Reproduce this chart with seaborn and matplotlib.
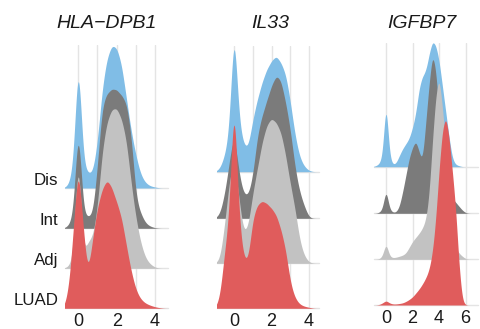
import numpy as np
import matplotlib
matplotlib.use("Agg")
import matplotlib.pyplot as plt
import seaborn as sns

sns.set_theme(style="white")
plt.rcParams['font.family'] = ['Liberation Sans', 'DejaVu Sans']

genes = ['HLA\u2212DPB1', 'IL33', 'IGFBP7']
groups = ['Dis', 'Int', 'Adj', 'LUAD']
colors = ['#80bde6', '#7b7b7b', '#c2c2c2', '#e05c5c']

# ridge weights read off the picture (pixels above each baseline), sampled every 0.25
# (narrow spikes are given a bit more weight because the kde smooths them out)
step = 0.25
x_hla = np.arange(-0.75, 4.51, step)
hla_dis = [0, 3, 20, 158, 22, 15, 14, 45, 102, 131, 144, 141, 125, 90, 57, 32, 13, 5, 2, 1, 0, 0]
hla_int = [0, 3, 12, 126, 12, 12, 12, 62, 126, 135, 140, 139, 133, 127, 97, 29, 15, 5, 2, 0.5, 0, 0]
hla_adj = [0, 2, 10, 141, 8, 28, 30, 60, 120, 148, 160, 161, 150, 130, 85, 50, 25, 10, 4, 1, 0, 0]
hla_luad = [0, 18, 79, 157, 80, 29, 71, 102, 120, 130, 121, 106, 92, 63, 37, 18, 9, 5, 3, 1.5, 0.5, 0]

x_il33 = np.arange(-1.0, 4.51, step)
il33_dis = [0, 3, 16, 38, 169, 51, 27, 22, 53, 73, 90, 103, 111, 117, 109, 99, 71, 36, 14, 5, 1, 0, 0]
il33_int = [0, 4, 24, 56, 91, 46, 24, 22, 41, 85, 103, 118, 133, 144, 139, 116, 90, 50, 26, 12, 0.5, 0, 0]
il33_adj = [0, 3, 38, 84, 108, 68, 29, 35, 71, 95, 122, 139, 146, 141, 132, 109, 79, 56, 22, 7, 1, 0, 0]
il33_luad = [0, 10, 58, 90, 240, 90, 50, 45, 92, 104, 108, 105, 100, 94, 79, 60, 25, 10, 4, 2, 1, 0, 0]

x_igf = np.arange(-1.0, 6.51, step)
igf_dis = [0, 1, 3, 10, 78, 10, 2, 3, 11, 18, 23, 28, 39, 53, 80, 91, 95, 113, 127, 122,
           107, 80, 55, 29, 7, 2, 1, 0, 0, 0, 0]
igf_int = [0, 0, 1, 4, 28, 4, 1, 1, 6, 21, 38, 56, 66, 74, 61, 50, 92, 130, 163, 145,
           100, 58, 29, 19, 15, 11, 7, 3, 0.5, 0, 0]
igf_adj = [0, 0, 0.5, 3, 19, 3, 1.5, 2, 3, 4, 6, 12, 18, 22, 26, 31, 39, 63, 120, 165,
           187, 151, 117, 68, 32, 11, 6, 3, 0.5, 0, 0]
igf_luad = [0, 0, 0.5, 2, 5, 2, 1, 1, 1.5, 2, 3.5, 5.5, 8, 12, 16, 21, 27, 35, 52, 85,
            137, 177, 191, 169, 133, 98, 38, 3, 0, 0, 0]

data = [
    (x_hla, [hla_dis, hla_int, hla_adj, hla_luad]),
    (x_il33, [il33_dis, il33_int, il33_adj, il33_luad]),
    (x_igf, [igf_dis, igf_int, igf_adj, igf_luad]),
]

# layout in pixels
W, H = 481, 329
panels = [
    dict(left=65, right=168, top=45, base=[188, 228.3, 268.3, 308.3], xlim=(-0.69, 4.67),
         ticks=[0, 2, 4], minor=[1, 3], title_x=107),
    dict(left=217.3, right=319, top=46, base=[171.7, 218.3, 263.3, 308.3], xlim=(-0.89, 4.53),
         ticks=[0, 2, 4], minor=[1, 3], title_x=270),
    dict(left=374.3, right=478.3, top=43, base=[166.7, 213.3, 259.3, 305], xlim=(-0.88, 6.95),
         ticks=[0, 2, 4, 6], minor=[], title_x=421.7),
]
grid_col = '#e4e4e4'
txt_col = '#1a1a1a'
bw = 0.16

fig = plt.figure(figsize=(W / 100, H / 100), dpi=100)

for p, (gene, (xs, series)) in enumerate(zip(genes, data)):
    pan = panels[p]
    l, r, t = pan['left'], pan['right'], pan['top']
    bottom = pan['base'][-1]

    # background: grid lines and x axis
    bg = fig.add_axes([l / W, 1 - bottom / H, (r - l) / W, (bottom - t) / H])
    bg.set_xlim(pan['xlim'])
    bg.set_ylim(0, bottom - t)
    bg.set_xticks(pan['ticks'])
    bg.set_xticks(pan['minor'], minor=True)
    bg.grid(axis='x', which='both', color=grid_col, lw=1.0)
    bg.set_yticks([])
    for b in pan['base']:
        bg.axhline(bottom - b, color=grid_col, lw=1.0, clip_on=False)
    for s in bg.spines.values():
        s.set_visible(False)
    bg.tick_params(axis='x', which='both', length=0, labelsize=13, pad=3.5, labelcolor=txt_col)
    bg.patch.set_alpha(0)

    # ridges, top one first so lower ones cover it
    for i, hs in enumerate(series):
        hs = np.asarray(hs, float)
        b = pan['base'][i]
        ax_h = b - 5
        ax = fig.add_axes([l / W, 1 - b / H, (r - l) / W, ax_h / H])
        sd = np.sqrt(np.cov(xs, aweights=hs))
        sns.kdeplot(x=xs, weights=hs, bw_method=bw / sd, fill=True, alpha=1,
                    color=colors[i], linewidth=0, gridsize=600, ax=ax)
        ax.set_xlim(pan['xlim'])
        ax.set_ylim(0, ax_h / (hs.sum() * step))
        ax.axis('off')
        ax.patch.set_alpha(0)

    fig.text(pan['title_x'] / W, 1 - 28.5 / H, gene, ha='center', va='baseline',
             fontsize=14, style='italic', color=txt_col)

    if p == 0:
        for i, g in enumerate(groups):
            fig.text(58.5 / W, 1 - pan['base'][i] / H, g, ha='right', va='bottom',
                     fontsize=12.2, color=txt_col)

fig.savefig('out.png', dpi=100)
